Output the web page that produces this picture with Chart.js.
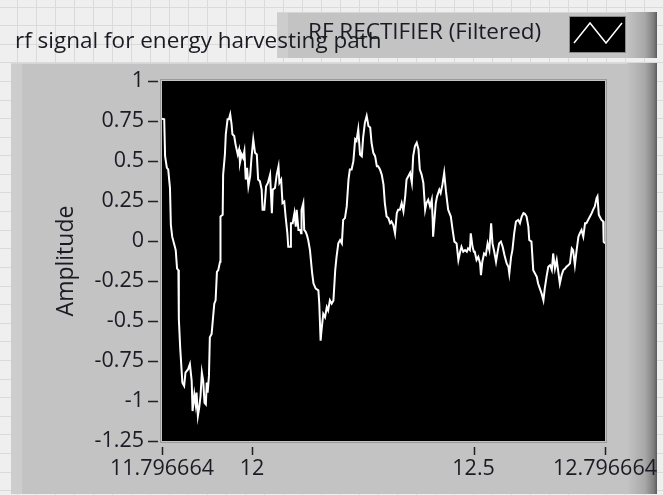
<!DOCTYPE html>
<html><head><meta charset="utf-8">
<script src="https://cdn.jsdelivr.net/npm/chart.js@4.4.1/dist/chart.umd.min.js"></script>
<style>
html,body{margin:0;padding:0;background:#f0f0f0;}
#wrap{position:relative;width:664px;height:495px;overflow:hidden;}
#c{position:absolute;left:0;top:0;}
.t{position:absolute;white-space:nowrap;font-family:"Open Sans";color:#1b1b24;line-height:24px;}
#legendText{left:308px;top:19px;font-size:22.5px;}
#title{left:15px;top:28px;font-size:22.5px;}
</style></head><body>
<div id="wrap">
<canvas id="c" width="664" height="495"></canvas>
<div class="t" id="legendText">RF RECTIFIER (Filtered)</div>
<div class="t" id="title">rf signal for energy harvesting path</div>
</div>
<script>
// ---- data ----
const seriesName = 'RF RECTIFIER (Filtered)';
const titleText = 'rf signal for energy harvesting path';
const yAxisTitle = 'Amplitude';
const xStart = 11.796664;
const xEnd = 12.796664;
const xTickValues = [11.796664, 12, 12.5, 12.796664];
const xTickLabels = ['11.796664', '12', '12.5', '12.796664'];
const yTickValues = [-1.25, -1, -0.75, -0.5, -0.25, 0, 0.25, 0.5, 0.75, 1];
const yTickLabels = ['-1.25', '-1', '-0.75', '-0.5', '-0.25', '0', '0.25', '0.5', '0.75', '1'];
// time offset from xStart (s)
const timeOffset = [
0,0.005,0.007,0.011,0.014,0.018,0.020,0.023,0.028,0.031,
0.034,0.037,0.038,0.041,0.046,0.050,0.053,0.059,0.063,0.067,
0.069,0.073,0.076,0.078,0.081,0.084,0.087,0.090,0.093,0.096,
0.099,0.101,0.103,0.106,0.108,0.112,0.114,0.118,0.121,0.124,
0.127,0.131,0.132,0.137,0.138,0.142,0.144,0.148,0.151,0.154,
0.157,0.159,0.163,0.166,0.171,0.174,0.176,0.180,0.183,0.186,
0.189,0.192,0.195,0.199,0.202,0.206,0.210,0.214,0.217,0.221,
0.225,0.227,0.231,0.235,0.239,0.244,0.248,0.250,0.255,0.259,
0.263,0.265,0.269,0.272,0.276,0.279,0.283,0.285,0.289,0.291,
0.295,0.299,0.302,0.304,0.308,0.312,0.314,0.315,0.319,0.321,
0.324,0.327,0.330,0.334,0.339,0.342,0.347,0.353,0.355,0.358,
0.360,0.364,0.368,0.372,0.375,0.379,0.383,0.387,0.391,0.394,
0.398,0.402,0.406,0.409,0.413,0.417,0.421,0.424,0.428,0.432,
0.436,0.439,0.443,0.447,0.451,0.454,0.458,0.462,0.466,0.470,
0.473,0.477,0.481,0.485,0.488,0.492,0.496,0.500,0.503,0.507,
0.511,0.515,0.518,0.522,0.526,0.530,0.533,0.537,0.541,0.545,
0.549,
0.552,0.556,0.560,0.564,0.567,0.571,0.575,0.579,0.582,0.586,
0.590,0.594,0.597,0.601,0.605,0.609,0.611,0.612,0.615,0.618,
0.621,0.626,0.629,0.633,0.637,0.641,0.646,0.652,0.656,0.660,
0.665,0.669,0.673,0.676,0.680,0.684,0.688,0.691,0.695,0.697,
0.701,0.704,0.706,0.710,0.714,0.718,0.720,0.723,0.727,0.731,
0.735,0.739,0.743,0.746,0.750,0.754,0.757,0.761,0.765,0.769,
0.773,0.778,0.782,0.784,0.788,0.791,0.795,0.799,0.804,0.808,
0.812,0.816,0.819,0.823,0.827,0.829,0.834,0.838,0.842,0.846,
0.849,0.853,0.857,0.861,0.864,0.868,0.872,0.876,0.880,0.883,
0.887,0.891,0.895,0.898,0.902,0.906,0.910,0.913,0.917,0.921,
0.925,0.928,0.932,0.936,0.940,0.943,0.947,0.951,0.955,0.958,
0.962,0.966,0.970,0.973,0.977,0.981,0.983,0.986,0.988,0.992,
0.996,0.997,1.000
];
const amplitude = [
0.765,0.761,0.530,0.457,0.447,0.331,0.101,0.027,-0.025,-0.057,
-0.172,-0.182,-0.486,-0.665,-0.885,-0.906,-0.822,-0.801,-0.769,-0.874,
-1.063,-0.958,-1.021,-0.948,-1.094,-1.042,-0.969,-0.822,-0.874,-1.011,
-1.021,-0.885,-0.948,-0.843,-0.602,-0.581,-0.518,-0.392,-0.371,-0.193,
-0.182,-0.130,0.153,0.164,0.415,0.541,0.667,0.761,0.761,0.792,
0.730,0.667,0.656,0.604,0.541,0.572,0.489,0.541,0.520,0.562,
0.384,0.457,0.342,0.405,0.520,0.635,0.551,0.541,0.384,0.373,
0.321,0.195,0.195,0.342,0.363,0.415,0.174,0.321,0.331,0.415,
0.467,0.363,0.384,0.237,0.247,0.153,0.048,-0.036,-0.036,0.111,
0.111,0.174,0.090,0.195,0.069,0.069,0.048,0.195,0.237,0.069,
0.059,0.038,0.006,-0.057,-0.203,-0.266,-0.298,-0.308,-0.392,-0.623,
-0.560,-0.455,-0.476,-0.413,-0.434,-0.371,-0.392,-0.371,-0.182,-0.099,
-0.015,0.006,-0.015,0.132,0.143,0.216,0.384,0.447,0.447,0.499,
0.635,0.625,0.698,0.541,0.530,0.646,0.740,0.782,0.719,0.709,
0.614,0.551,0.530,0.467,0.467,0.447,0.415,0.352,0.237,0.153,
0.143,0.111,0.122,0.101,0.048,0.174,0.195,0.195,0.237,0.185,
0.279,
0.384,0.405,0.426,0.363,0.530,0.593,0.614,0.572,0.447,0.415,
0.363,0.195,0.237,0.258,0.216,0.258,0.132,0.027,0.132,0.237,
0.279,0.321,0.300,0.352,0.426,0.310,0.195,0.153,0.069,-0.004,
-0.015,-0.119,-0.067,-0.036,-0.067,-0.057,-0.067,-0.046,-0.057,0.048,
-0.036,-0.067,-0.067,-0.119,-0.099,-0.140,-0.214,-0.130,-0.078,-0.088,
-0.015,-0.057,0.111,-0.015,-0.067,-0.130,-0.078,-0.015,-0.004,-0.036,
-0.088,-0.140,-0.161,-0.203,-0.099,-0.057,0.048,0.122,0.132,0.111,
0.153,0.174,0.170,0.153,0.090,0.006,-0.004,-0.182,-0.203,-0.224,
-0.266,-0.298,-0.329,-0.371,-0.298,-0.224,-0.161,-0.151,-0.182,-0.078,
-0.172,-0.119,-0.203,-0.266,-0.214,-0.182,-0.172,-0.161,-0.151,-0.140,
-0.046,-0.057,-0.151,-0.057,0.027,0.048,0.069,0.027,0.111,0.111,
0.132,0.153,0.174,0.195,0.216,0.268,0.279,0.164,0.153,0.132,
0.122,-0.004,-0.015
];

const points = timeOffset.map((t, i) => ({x: xStart + t, y: amplitude[i]}));
const LINE = '#ffffff';
const TXT = '#1b1b24';
const FONT = 'Open Sans';

function panel(ctx, x, y, w, h) {
  ctx.fillStyle = '#c3c3c3';
  ctx.fillRect(x, y, w, h);
  ctx.fillStyle = '#cdcdcd';
  ctx.fillRect(x, y, 11, h);
  ctx.fillStyle = '#d6d6d6';
  ctx.fillRect(x, y, w, 1);
  const g = ctx.createLinearGradient(x + w - 30, 0, x + w, 0);
  g.addColorStop(0, '#c3c3c3');
  g.addColorStop(0.6, '#a8a8a8');
  g.addColorStop(0.9, '#7c7c7c');
  g.addColorStop(1, '#5a5a5a');
  ctx.fillStyle = g;
  ctx.fillRect(x + w - 30, y, 30, h);
}

const decor = {
  id: 'decor',
  beforeDraw(chart) {
    const ctx = chart.ctx, W = chart.width, H = chart.height;
    ctx.save();
    ctx.fillStyle = '#efefef';
    ctx.fillRect(0, 0, W, H);
    ctx.strokeStyle = '#dadada';
    ctx.lineWidth = 1;
    ctx.beginPath();
    for (let x = 17.5; x < W; x += 19) { ctx.moveTo(x, 0); ctx.lineTo(x, H); }
    for (let y = 6.5; y < H; y += 18.6) { ctx.moveTo(0, Math.round(y) + 0.5); ctx.lineTo(W, Math.round(y) + 0.5); }
    ctx.stroke();
    // graph frame
    panel(ctx, 11, 63, 646, 431);
    // legend box
    panel(ctx, 277, 12, 380, 46);
    // legend sample
    ctx.fillStyle = '#000';
    ctx.fillRect(570, 17, 55, 35);
    ctx.strokeStyle = '#8a8a8a';
    ctx.strokeRect(569.5, 16.5, 56, 36);
    ctx.strokeStyle = LINE;
    ctx.lineWidth = 1.5;
    ctx.beginPath();
    ctx.moveTo(574, 43); ctx.lineTo(590, 23); ctx.lineTo(606, 43); ctx.lineTo(622, 23);
    ctx.stroke();
    // plot background
    const a = chart.chartArea;
    ctx.fillStyle = '#000';
    ctx.fillRect(a.left, a.top, a.right - a.left, a.bottom - a.top);
    ctx.strokeStyle = '#9a9a9a';
    ctx.lineWidth = 1;
    ctx.strokeRect(a.left - 1.5, a.top - 1.5, a.right - a.left + 3, a.bottom - a.top + 3);
    ctx.restore();
  },
  afterDraw(chart) {
    const ctx = chart.ctx, a = chart.chartArea;
    const xs = chart.scales.x, ys = chart.scales.y;
    ctx.save();
    ctx.strokeStyle = '#202020';
    ctx.lineWidth = 1.5;
    ctx.beginPath();
    xTickValues.forEach(v => {
      const px = Math.round(xs.getPixelForValue(v)) + 0.5;
      ctx.moveTo(px, a.bottom + 6); ctx.lineTo(px, a.bottom + 14);
    });
    ys.ticks.forEach(t => {
      const py = Math.round(ys.getPixelForValue(t.value)) + 0.5;
      ctx.moveTo(a.left - 14, py); ctx.lineTo(a.left - 4, py);
    });
    ctx.stroke();
    ctx.restore();
  }
};

new Chart(document.getElementById('c'), {
  type: 'line',
  data: {
    datasets: [{
      label: seriesName,
      data: points,
      borderColor: LINE,
      borderWidth: 2,
      pointRadius: 0,
      tension: 0,
      fill: false
    }]
  },
  options: {
    responsive: false,
    animation: false,
    events: [],
    layout: {padding: {left: 53, top: 81, right: 59, bottom: 0}},
    plugins: {legend: {display: false}, title: {display: false}, tooltip: {enabled: false}},
    scales: {
      x: {
        type: 'linear', min: xStart, max: xEnd,
        afterBuildTicks(s) { s.ticks = xTickValues.map(v => ({value: v})); },
        afterFit(s) { s.height = 54; s.paddingLeft = 0; s.paddingRight = 0; },
        ticks: {
          autoSkip: false, maxRotation: 0, padding: 15, color: TXT,
          font: {family: FONT, size: 21.5},
          callback: (v) => xTickLabels[xTickValues.indexOf(v)]
        },
        grid: {display: false, drawTicks: false},
        border: {display: false}
      },
      y: {
        min: -1.25, max: 1,
        afterBuildTicks(s) { s.ticks = yTickValues.map(v => ({value: v})); },
        afterFit(s) { s.width = 109; s.paddingTop = 0; s.paddingBottom = 0; },
        ticks: {
          padding: 18, color: TXT,
          font: {family: FONT, size: 21.5},
          callback: (v) => yTickLabels[yTickValues.indexOf(v)]
        },
        grid: {display: false, drawTicks: false},
        border: {display: false},
        title: {display: true, text: yAxisTitle, color: TXT, padding: {top: 0, bottom: 0},
                font: {family: FONT, size: 23}}
      }
    }
  },
  plugins: [decor]
});
</script>
</body></html>
